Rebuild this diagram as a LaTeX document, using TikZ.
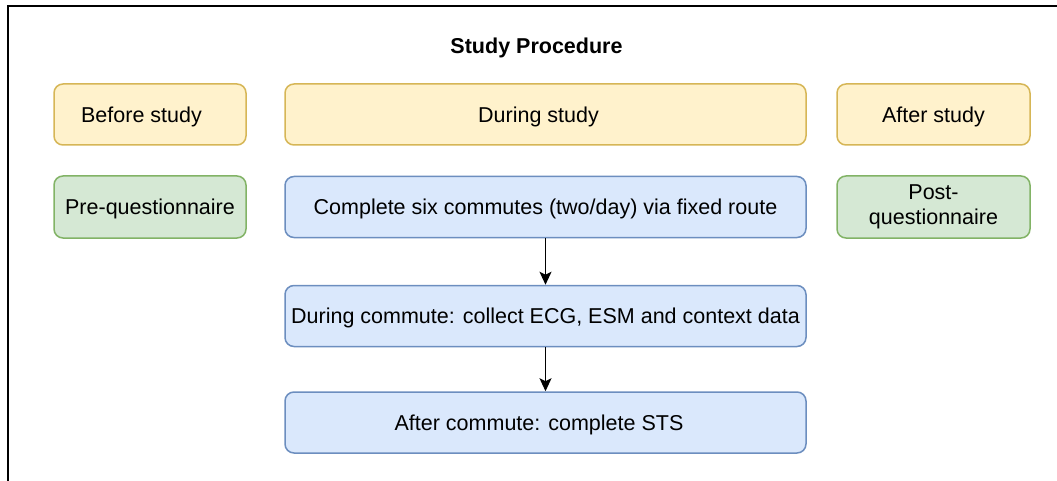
\documentclass[tikz,border=0pt]{standalone}
\usepackage{fontspec}
\setmainfont{Liberation Sans}
\usetikzlibrary{arrows.meta}
\definecolor{yfill}{HTML}{FFF2CC}
\definecolor{ydraw}{HTML}{D6B656}
\definecolor{gfill}{HTML}{D5E8D4}
\definecolor{gdraw}{HTML}{82B366}
\definecolor{bfill}{HTML}{DAE8FC}
\definecolor{bdraw}{HTML}{6C8EBF}
\tikzset{
  boxbase/.style={rounded corners=9pt, line width=1.5pt, inner sep=2pt,
    font=\fontsize{21.5}{25}\selectfont, align=center},
  onel/.style={text height=15.4pt, text depth=0pt},
  txt/.style={font=\fontsize{21.5}{25}\selectfont, onel, inner sep=0pt},
  phasebox/.style={boxbase, onel, fill=yfill, draw=ydraw},
  qbox/.style={boxbase, fill=gfill, draw=gdraw},
  stepbox/.style={boxbase, onel, fill=bfill, draw=bdraw, minimum width=521pt, minimum height=61pt},
  flow/.style={line width=1.5pt, -{Stealth[length=13pt,width=12pt,inset=3pt]}}
}
\begin{document}
\begin{tikzpicture}[x=1pt,y=-1pt]
\useasboundingbox (0,0) rectangle (1057,481);
\draw[line width=2pt] (7.5,481) |- (1057,6.5);
\node[font=\fontsize{21.5}{25}\selectfont\bfseries, anchor=base] (title) at (536.5,53.5) {Study Procedure};
\node[phasebox, minimum width=192pt, minimum height=61pt] (before) at (150,114.5) {};
\node[txt] (beforetext) at ([xshift=-8.5pt]before.center) {Before study};
\node[phasebox, minimum width=521pt, minimum height=61pt] (during) at (545.5,114.5) {};
\node[txt] (duringtext) at ([xshift=-7pt]during.center) {During study};
\node[phasebox, minimum width=193pt, minimum height=61pt] (after) at (933.5,114.5) {After study};
\node[qbox, onel, minimum width=192pt, minimum height=62pt] (pre) at (150,207) {Pre-questionnaire};
\node[qbox, minimum width=193pt, minimum height=62pt] (post) at (933.5,207) {Post-\\questionnaire};
\node[stepbox] (complete) at (545.5,207) {Complete six commutes (two/day) via fixed route};
\node[stepbox] (commute) at (545.5,316) {During commute: collect ECG, ESM and context data};
\node[stepbox] (sts) at (545.5,422.5) {};
\node[txt] (ststext) at ([xshift=-6.5pt]sts.center) {After commute: complete STS};
\draw[flow] (complete) -- (commute);
\draw[flow] (commute) -- (sts);
\end{tikzpicture}
\end{document}
